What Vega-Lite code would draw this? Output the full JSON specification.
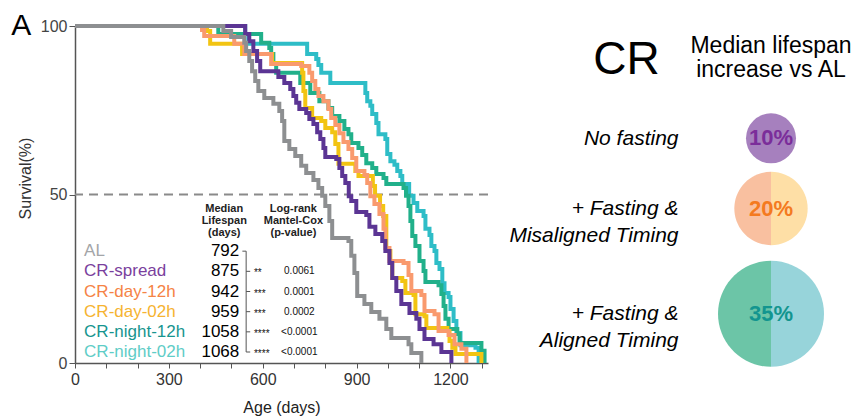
{
  "$schema": "https://vega.github.io/schema/vega-lite/v6.json",
  "padding": {"left": 11, "top": 11, "right": 4, "bottom": 2},
  "background": "white",
  "bounds": "flush",
  "spacing": 203,
  "config": {"view": {"stroke": null}, "font": "Liberation Sans", "line": {"strokeWidth": 4}},
  "datasets": {
    "curves": [
      {"group":"AL","age":0,"survival":100},{"group":"AL","age":474,"survival":98.5},{"group":"AL","age":499,"survival":96.7},{"group":"AL","age":541,"survival":95.0},{"group":"AL","age":547,"survival":92.6},{"group":"AL","age":557,"survival":89.6},{"group":"AL","age":566,"survival":86.6},{"group":"AL","age":576,"survival":83.7},{"group":"AL","age":586,"survival":80.7},{"group":"AL","age":605,"survival":78.6},{"group":"AL","age":634,"survival":76.9},{"group":"AL","age":653,"survival":74.8},{"group":"AL","age":662,"survival":71.8},{"group":"AL","age":669,"survival":65.9},{"group":"AL","age":685,"survival":63.5},{"group":"AL","age":704,"survival":61.4},{"group":"AL","age":723,"survival":58.5},{"group":"AL","age":739,"survival":56.4},{"group":"AL","age":762,"survival":54.3},{"group":"AL","age":778,"survival":51.9},{"group":"AL","age":790,"survival":49.6},{"group":"AL","age":800,"survival":46.6},{"group":"AL","age":813,"survival":42.1},{"group":"AL","age":822,"survival":37.1},{"group":"AL","age":874,"survival":36.2},{"group":"AL","age":883,"survival":31.8},{"group":"AL","age":893,"survival":26.7},{"group":"AL","age":902,"survival":19.9},{"group":"AL","age":925,"survival":17.5},{"group":"AL","age":947,"survival":15.1},{"group":"AL","age":973,"survival":13.1},{"group":"AL","age":995,"survival":10.1},{"group":"AL","age":1011,"survival":7.4},{"group":"AL","age":1066,"survival":5.6},{"group":"AL","age":1075,"survival":3.0},{"group":"AL","age":1107,"survival":0},
      {"group":"CR-spread","age":0,"survival":100},{"group":"CR-spread","age":544,"survival":97.6},{"group":"CR-spread","age":557,"survival":95.5},{"group":"CR-spread","age":570,"survival":92.6},{"group":"CR-spread","age":582,"survival":89.6},{"group":"CR-spread","age":592,"survival":86.6},{"group":"CR-spread","age":650,"survival":84.9},{"group":"CR-spread","age":669,"survival":83.1},{"group":"CR-spread","age":688,"survival":81.3},{"group":"CR-spread","age":698,"survival":79.2},{"group":"CR-spread","age":707,"survival":77.2},{"group":"CR-spread","age":717,"survival":75.4},{"group":"CR-spread","age":739,"survival":74.2},{"group":"CR-spread","age":749,"survival":72.4},{"group":"CR-spread","age":762,"survival":70.9},{"group":"CR-spread","age":774,"survival":68.5},{"group":"CR-spread","age":784,"survival":66.5},{"group":"CR-spread","age":794,"survival":63.8},{"group":"CR-spread","age":800,"survival":61.1},{"group":"CR-spread","age":835,"survival":60.5},{"group":"CR-spread","age":845,"survival":57.9},{"group":"CR-spread","age":854,"survival":55.5},{"group":"CR-spread","age":864,"survival":53.4},{"group":"CR-spread","age":875,"survival":49.5},{"group":"CR-spread","age":883,"survival":48.1},{"group":"CR-spread","age":899,"survival":44.8},{"group":"CR-spread","age":931,"survival":43.9},{"group":"CR-spread","age":941,"survival":40.4},{"group":"CR-spread","age":960,"survival":38.3},{"group":"CR-spread","age":982,"survival":36.2},{"group":"CR-spread","age":992,"survival":33.2},{"group":"CR-spread","age":1005,"survival":29.7},{"group":"CR-spread","age":1014,"survival":25.2},{"group":"CR-spread","age":1027,"survival":21.4},{"group":"CR-spread","age":1043,"survival":17.5},{"group":"CR-spread","age":1069,"survival":14.8},{"group":"CR-spread","age":1091,"survival":13.1},{"group":"CR-spread","age":1101,"survival":10.1},{"group":"CR-spread","age":1117,"survival":7.1},{"group":"CR-spread","age":1146,"survival":5.6},{"group":"CR-spread","age":1171,"survival":3.3},{"group":"CR-spread","age":1203,"survival":0},
      {"group":"CR-day-12h","age":0,"survival":100},{"group":"CR-day-12h","age":406,"survival":98.8},{"group":"CR-day-12h","age":413,"survival":97.0},{"group":"CR-day-12h","age":509,"survival":94.7},{"group":"CR-day-12h","age":541,"survival":91.7},{"group":"CR-day-12h","age":627,"survival":88.7},{"group":"CR-day-12h","age":723,"survival":88.1},{"group":"CR-day-12h","age":749,"survival":86.1},{"group":"CR-day-12h","age":758,"survival":83.7},{"group":"CR-day-12h","age":768,"survival":81.3},{"group":"CR-day-12h","age":778,"survival":79.2},{"group":"CR-day-12h","age":794,"survival":77.7},{"group":"CR-day-12h","age":810,"survival":75.4},{"group":"CR-day-12h","age":819,"survival":72.7},{"group":"CR-day-12h","age":832,"survival":70.6},{"group":"CR-day-12h","age":845,"survival":68.2},{"group":"CR-day-12h","age":858,"survival":65.6},{"group":"CR-day-12h","age":874,"survival":63.5},{"group":"CR-day-12h","age":886,"survival":60.8},{"group":"CR-day-12h","age":899,"survival":57.0},{"group":"CR-day-12h","age":925,"survival":55.8},{"group":"CR-day-12h","age":934,"survival":53.4},{"group":"CR-day-12h","age":944,"survival":49.5},{"group":"CR-day-12h","age":957,"survival":47.2},{"group":"CR-day-12h","age":973,"survival":44.2},{"group":"CR-day-12h","age":986,"survival":39.8},{"group":"CR-day-12h","age":992,"survival":34.1},{"group":"CR-day-12h","age":1005,"survival":30.3},{"group":"CR-day-12h","age":1050,"survival":29.7},{"group":"CR-day-12h","age":1066,"survival":26.1},{"group":"CR-day-12h","age":1075,"survival":21.4},{"group":"CR-day-12h","age":1107,"survival":20.2},{"group":"CR-day-12h","age":1117,"survival":15.4},{"group":"CR-day-12h","age":1149,"survival":14.5},{"group":"CR-day-12h","age":1162,"survival":9.5},{"group":"CR-day-12h","age":1194,"survival":8.3},{"group":"CR-day-12h","age":1213,"survival":5.6},{"group":"CR-day-12h","age":1235,"survival":4.2},{"group":"CR-day-12h","age":1251,"survival":0},
      {"group":"CR-day-02h","age":0,"survival":100},{"group":"CR-day-02h","age":422,"survival":98.5},{"group":"CR-day-02h","age":432,"survival":94.7},{"group":"CR-day-02h","age":534,"survival":91.7},{"group":"CR-day-02h","age":630,"survival":89.0},{"group":"CR-day-02h","age":726,"survival":86.1},{"group":"CR-day-02h","age":730,"survival":80.7},{"group":"CR-day-02h","age":736,"survival":75.7},{"group":"CR-day-02h","age":758,"survival":72.7},{"group":"CR-day-02h","age":787,"survival":71.8},{"group":"CR-day-02h","age":800,"survival":69.7},{"group":"CR-day-02h","age":822,"survival":68.5},{"group":"CR-day-02h","age":832,"survival":65.0},{"group":"CR-day-02h","age":842,"survival":59.1},{"group":"CR-day-02h","age":896,"survival":57.0},{"group":"CR-day-02h","age":906,"survival":55.5},{"group":"CR-day-02h","age":952,"survival":52.5},{"group":"CR-day-02h","age":959,"survival":49.6},{"group":"CR-day-02h","age":975,"survival":46.6},{"group":"CR-day-02h","age":985,"survival":43.6},{"group":"CR-day-02h","age":995,"survival":33.2},{"group":"CR-day-02h","age":1008,"survival":29.7},{"group":"CR-day-02h","age":1014,"survival":25.2},{"group":"CR-day-02h","age":1046,"survival":24.3},{"group":"CR-day-02h","age":1056,"survival":20.8},{"group":"CR-day-02h","age":1082,"survival":20.2},{"group":"CR-day-02h","age":1088,"survival":14.5},{"group":"CR-day-02h","age":1117,"survival":13.9},{"group":"CR-day-02h","age":1123,"survival":10.4},{"group":"CR-day-02h","age":1190,"survival":9.5},{"group":"CR-day-02h","age":1197,"survival":6.5},{"group":"CR-day-02h","age":1206,"survival":4.5},{"group":"CR-day-02h","age":1216,"survival":2.7},{"group":"CR-day-02h","age":1299,"survival":0},
      {"group":"CR-night-12h","age":0,"survival":100},{"group":"CR-night-12h","age":458,"survival":97.6},{"group":"CR-night-12h","age":595,"survival":95.0},{"group":"CR-night-12h","age":621,"survival":93.5},{"group":"CR-night-12h","age":627,"survival":91.7},{"group":"CR-night-12h","age":634,"survival":89.0},{"group":"CR-night-12h","age":643,"survival":86.1},{"group":"CR-night-12h","age":720,"survival":83.1},{"group":"CR-night-12h","age":752,"survival":80.1},{"group":"CR-night-12h","age":781,"survival":77.7},{"group":"CR-night-12h","age":810,"survival":75.7},{"group":"CR-night-12h","age":822,"survival":73.3},{"group":"CR-night-12h","age":845,"survival":71.8},{"group":"CR-night-12h","age":861,"survival":69.4},{"group":"CR-night-12h","age":874,"survival":67.9},{"group":"CR-night-12h","age":883,"survival":65.3},{"group":"CR-night-12h","age":906,"survival":63.8},{"group":"CR-night-12h","age":918,"survival":61.7},{"group":"CR-night-12h","age":931,"survival":59.3},{"group":"CR-night-12h","age":950,"survival":57.9},{"group":"CR-night-12h","age":963,"survival":56.1},{"group":"CR-night-12h","age":986,"survival":54.9},{"group":"CR-night-12h","age":995,"survival":53.1},{"group":"CR-night-12h","age":1050,"survival":51.9},{"group":"CR-night-12h","age":1058,"survival":49.6},{"group":"CR-night-12h","age":1066,"survival":46.6},{"group":"CR-night-12h","age":1072,"survival":42.1},{"group":"CR-night-12h","age":1078,"survival":37.7},{"group":"CR-night-12h","age":1088,"survival":34.7},{"group":"CR-night-12h","age":1101,"survival":30.3},{"group":"CR-night-12h","age":1114,"survival":27.3},{"group":"CR-night-12h","age":1120,"survival":24.0},{"group":"CR-night-12h","age":1162,"survival":23.1},{"group":"CR-night-12h","age":1171,"survival":20.5},{"group":"CR-night-12h","age":1178,"survival":16.9},{"group":"CR-night-12h","age":1184,"survival":13.1},{"group":"CR-night-12h","age":1194,"survival":10.1},{"group":"CR-night-12h","age":1222,"survival":8.6},{"group":"CR-night-12h","age":1229,"survival":5.9},{"group":"CR-night-12h","age":1299,"survival":3.6},{"group":"CR-night-12h","age":1309,"survival":0},
      {"group":"CR-night-02h","age":0,"survival":100},{"group":"CR-night-02h","age":544,"survival":97.6},{"group":"CR-night-02h","age":554,"survival":94.7},{"group":"CR-night-02h","age":742,"survival":91.7},{"group":"CR-night-02h","age":771,"survival":90.2},{"group":"CR-night-02h","age":778,"survival":88.4},{"group":"CR-night-02h","age":787,"survival":86.1},{"group":"CR-night-02h","age":816,"survival":83.1},{"group":"CR-night-02h","age":928,"survival":80.1},{"group":"CR-night-02h","age":934,"survival":77.7},{"group":"CR-night-02h","age":944,"survival":76.3},{"group":"CR-night-02h","age":950,"survival":73.9},{"group":"CR-night-02h","age":963,"survival":71.2},{"group":"CR-night-02h","age":970,"survival":67.9},{"group":"CR-night-02h","age":992,"survival":66.5},{"group":"CR-night-02h","age":998,"survival":62.0},{"group":"CR-night-02h","age":1008,"survival":59.9},{"group":"CR-night-02h","age":1021,"survival":58.8},{"group":"CR-night-02h","age":1030,"survival":57.0},{"group":"CR-night-02h","age":1040,"survival":55.5},{"group":"CR-night-02h","age":1046,"survival":53.1},{"group":"CR-night-02h","age":1068,"survival":49.6},{"group":"CR-night-02h","age":1082,"survival":47.5},{"group":"CR-night-02h","age":1094,"survival":45.1},{"group":"CR-night-02h","age":1114,"survival":43.6},{"group":"CR-night-02h","age":1120,"survival":39.8},{"group":"CR-night-02h","age":1133,"survival":38.0},{"group":"CR-night-02h","age":1139,"survival":34.7},{"group":"CR-night-02h","age":1149,"survival":33.2},{"group":"CR-night-02h","age":1155,"survival":29.7},{"group":"CR-night-02h","age":1165,"survival":27.9},{"group":"CR-night-02h","age":1174,"survival":23.7},{"group":"CR-night-02h","age":1181,"survival":20.8},{"group":"CR-night-02h","age":1194,"survival":19.6},{"group":"CR-night-02h","age":1200,"survival":16.0},{"group":"CR-night-02h","age":1210,"survival":12.5},{"group":"CR-night-02h","age":1219,"survival":8.9},{"group":"CR-night-02h","age":1232,"survival":5.3},{"group":"CR-night-02h","age":1280,"survival":4.5},{"group":"CR-night-02h","age":1290,"survival":0}
    ],
    "table": [
      {"group":"AL","median":792,"stars":"","p":""},
      {"group":"CR-spread","median":875,"stars":"**","p":"0.0061"},
      {"group":"CR-day-12h","median":942,"stars":"***","p":"0.0001"},
      {"group":"CR-day-02h","median":959,"stars":"***","p":"0.0002"},
      {"group":"CR-night-12h","median":1058,"stars":"****","p":"<0.0001"},
      {"group":"CR-night-02h","median":1068,"stars":"****","p":"<0.0001"}
    ],
    "headers": [
      {"group":"header","column":"median","lines":["Median","Lifespan","(days)"]},
      {"group":"header","column":"logrank","lines":["Log-rank","Mantel-Cox","(p-value)"]}
    ],
    "pies": [
      {"condition":"No fasting","increase":10,"group":"CR-spread","half":"full","label":"10%"},
      {"condition":"+ Fasting & Misaligned Timing","increase":20,"group":"CR-day-12h","half":"left","label":"20%"},
      {"condition":"+ Fasting & Misaligned Timing","increase":20,"group":"CR-day-02h","half":"right","label":"20%"},
      {"condition":"+ Fasting & Aligned Timing","increase":35,"group":"CR-night-12h","half":"left","label":"35%"},
      {"condition":"+ Fasting & Aligned Timing","increase":35,"group":"CR-night-02h","half":"right","label":"35%"}
    ]
  },
  "hconcat": [
    {
      "width": 413,
      "height": 337,
      "title": {"text": "A", "anchor": "start", "frame": "bounds", "fontSize": 30, "fontWeight": "normal", "color": "black", "offset": -47, "dx": -6, "baseline": "alphabetic"},
      "layer": [
        {
          "layer": [
            {
              "data": {"values": [{}]},
              "mark": {"type": "rule", "strokeDash": [9, 6], "strokeWidth": 2, "color": "#8a8a8a"},
              "encoding": {"y": {"datum": 50, "type": "quantitative"}}
            },
            {
              "data": {"name": "curves"},
              "encoding": {
                "x": {"field": "age", "type": "quantitative", "scale": {"domain": [0, 1320], "nice": false},
                  "axis": {"values": [0,100,200,300,400,500,600,700,800,900,1000,1100,1200,1300], "format": "d", "labelExpr": "datum.value % 300 === 0 ? datum.label : ''", "labelOverlap": false, "labelFlush": false, "title": "Age (days)", "titleFontSize": 16, "titleFontWeight": "normal", "titleColor": "#222", "titlePadding": 12, "labelFontSize": 16, "labelColor": "#333", "labelPadding": 3, "labelDx": -5, "tickSize": 5, "tickColor": "#555", "domainColor": "#555", "domainWidth": 1.5, "grid": false}},
                "y": {"field": "survival", "type": "quantitative", "scale": {"domain": [0, 100], "nice": false},
                  "axis": {"values": [0, 50, 100], "title": "Survival(%)", "titleFontSize": 16, "titleFontWeight": "normal", "titleColor": "#333", "titlePadding": 7, "titleY": 152, "labelFontSize": 16, "labelColor": "#444", "labelPadding": 2, "tickSize": 6, "tickColor": "#555", "domainColor": "#555", "domainWidth": 1.5, "grid": false}},
                "color": {"field": "group", "type": "nominal", "legend": null,
                  "scale": {"domain": ["AL","CR-spread","CR-day-12h","CR-day-02h","CR-night-12h","CR-night-02h"], "range": ["#8d8f91","#5b3594","#f99a6e","#f2c412","#21b08a","#2ebdc7"]}}
              },
              "layer": [
                {"transform": [{"filter": {"field": "group", "equal": "CR-night-02h"}}], "mark": {"type": "line", "interpolate": "step-after"}},
                {"transform": [{"filter": {"field": "group", "equal": "CR-night-12h"}}], "mark": {"type": "line", "interpolate": "step-after"}},
                {"transform": [{"filter": {"field": "group", "equal": "CR-day-02h"}}], "mark": {"type": "line", "interpolate": "step-after"}},
                {"transform": [{"filter": {"field": "group", "equal": "CR-day-12h"}}], "mark": {"type": "line", "interpolate": "step-after"}},
                {"transform": [{"filter": {"field": "group", "equal": "CR-spread"}}], "mark": {"type": "line", "interpolate": "step-after"}},
                {"transform": [{"filter": {"field": "group", "equal": "AL"}}], "mark": {"type": "line", "interpolate": "step-after"}}
              ]
            }
          ]
        },
        {
          "layer": [
            {
              "data": {"name": "table"},
              "mark": {"type": "text", "align": "left", "baseline": "middle", "fontSize": 17},
              "encoding": {
                "x": {"datum": 29, "type": "quantitative", "axis": null, "scale": {"domain": [0, 1320], "nice": false, "zero": false}},
                "y": {"field": "group", "type": "nominal", "axis": null,
                  "scale": {"type": "point", "padding": 0, "domain": ["header","AL","CR-spread","CR-day-12h","CR-day-02h","CR-night-12h","CR-night-02h"], "range": [205, 326]}},
                "text": {"field": "group"},
                "color": {"field": "group", "type": "nominal", "legend": null,
                  "scale": {"domain": ["AL","CR-spread","CR-day-12h","CR-day-02h","CR-night-12h","CR-night-02h"], "range": ["#a3a5a8","#7a3f9d","#f58345","#f6b331","#16958f","#5fcdc7"]}}
              }
            },
            {
              "data": {"name": "table"},
              "mark": {"type": "text", "align": "right", "baseline": "middle", "fontSize": 17, "color": "black"},
              "encoding": {
                "x": {"datum": 525, "type": "quantitative", "axis": null},
                "y": {"field": "group", "type": "nominal", "axis": null},
                "text": {"field": "median", "type": "quantitative", "format": "d"}
              }
            },
            {
              "data": {"values": [{}]},
              "mark": {"type": "rule", "color": "#555", "strokeWidth": 1},
              "encoding": {
                "x": {"datum": 547, "type": "quantitative", "axis": null},
                "y": {"datum": "AL", "type": "nominal", "axis": null},
                "y2": {"datum": "CR-night-02h"}
              }
            },
            {
              "data": {"name": "table"},
              "transform": [{"filter": "datum.group != 'AL'"}],
              "mark": {"type": "rule", "color": "#555", "strokeWidth": 1},
              "encoding": {
                "x": {"datum": 547, "type": "quantitative", "axis": null},
                "x2": {"datum": 560},
                "y": {"field": "group", "type": "nominal", "axis": null}
              }
            },
            {
              "data": {"name": "table"},
              "transform": [{"filter": "datum.group == 'AL'"}],
              "mark": {"type": "rule", "color": "#555", "strokeWidth": 1},
              "encoding": {
                "x": {"datum": 535, "type": "quantitative", "axis": null},
                "x2": {"datum": 547},
                "y": {"field": "group", "type": "nominal", "axis": null}
              }
            },
            {
              "data": {"name": "table"},
              "mark": {"type": "text", "align": "left", "baseline": "middle", "fontSize": 10, "color": "#111", "dy": 2},
              "encoding": {
                "x": {"datum": 572, "type": "quantitative", "axis": null},
                "y": {"field": "group", "type": "nominal", "axis": null},
                "text": {"field": "stars"}
              }
            },
            {
              "data": {"name": "table"},
              "mark": {"type": "text", "align": "center", "baseline": "middle", "fontSize": 10, "color": "#111"},
              "encoding": {
                "x": {"datum": 717, "type": "quantitative", "axis": null},
                "y": {"field": "group", "type": "nominal", "axis": null},
                "text": {"field": "p"}
              }
            },
            {
              "data": {"name": "headers"},
              "transform": [{"filter": "datum.column == 'median'"}],
              "mark": {"type": "text", "align": "center", "baseline": "alphabetic", "fontSize": 11, "fontWeight": "bold", "color": "#222", "lineHeight": 12, "dy": -19},
              "encoding": {
                "x": {"datum": 477, "type": "quantitative", "axis": null},
                "y": {"field": "group", "type": "nominal", "axis": null},
                "text": {"field": "lines"}
              }
            },
            {
              "data": {"name": "headers"},
              "transform": [{"filter": "datum.column == 'logrank'"}],
              "mark": {"type": "text", "align": "center", "baseline": "alphabetic", "fontSize": 11, "fontWeight": "bold", "color": "#222", "lineHeight": 12, "dy": -19},
              "encoding": {
                "x": {"datum": 698, "type": "quantitative", "axis": null},
                "y": {"field": "group", "type": "nominal", "axis": null},
                "text": {"field": "lines"}
              }
            }
          ]
        }
      ],
      "resolve": {"scale": {"x": "independent", "y": "independent", "color": "independent"}}
    },
    {
      "width": 160,
      "height": 337,
      "data": {"name": "pies"},
      "title": {"text": ["Median lifespan", "increase vs AL"], "anchor": "middle", "frame": "group", "fontSize": 23, "fontWeight": "normal", "color": "black", "lineHeight": 24, "offset": -56},
      "layer": [
        {
          "mark": {"type": "point", "filled": true, "opacity": 1, "strokeWidth": 0},
          "encoding": {
            "y": {"field": "increase", "type": "quantitative", "scale": {"domain": [-6, 42], "reverse": true, "nice": false, "zero": false},
              "axis": {"values": [10, 20, 35], "labelExpr": "datum.value == 10 ? 'No fasting' : datum.value == 20 ? ['+ Fasting &', 'Misaligned Timing'] : ['+ Fasting &', 'Aligned Timing']", "labelFontSize": 21, "labelFontStyle": "italic", "labelColor": "black", "labelPadding": 13, "labelLineHeight": 27, "labelOverlap": false, "domain": false, "ticks": false, "grid": false, "title": "CR", "titleAngle": 0, "titleX": -65, "titleY": 33, "titleFontSize": 46, "titleFontWeight": "normal", "titleColor": "black", "titleAlign": "center", "titleBaseline": "middle"}},
            "shape": {"field": "half", "type": "nominal", "legend": null,
              "scale": {"domain": ["full", "left", "right"], "range": ["circle", "M0,-1A1,1,0,0,0,0,1Z", "M0,-1A1,1,0,0,1,0,1Z"]}},
            "size": {"field": "increase", "type": "quantitative", "legend": null,
              "scale": {"type": "pow", "exponent": 1.5, "zero": false, "domain": [10, 35], "range": [2500, 11236]}},
            "color": {"field": "group", "type": "nominal", "legend": null,
              "scale": {"domain": ["CR-spread","CR-day-12h","CR-day-02h","CR-night-12h","CR-night-02h"], "range": ["#a680be","#f9c0a0","#fedfa6","#6cc5a7","#97d4da"]}}
          }
        },
        {
          "transform": [{"filter": "datum.half != 'right'"}],
          "mark": {"type": "text", "fontSize": 22, "fontWeight": "bold", "baseline": "middle", "align": "center"},
          "encoding": {
            "y": {"field": "increase", "type": "quantitative"},
            "text": {"field": "label"},
            "color": {"field": "group", "type": "nominal", "legend": null,
              "scale": {"domain": ["CR-spread","CR-day-12h","CR-night-12h"], "range": ["#7b2d9a","#f47a20","#13958f"]}}
          }
        }
      ],
      "resolve": {"scale": {"color": "independent"}}
    }
  ]
}
